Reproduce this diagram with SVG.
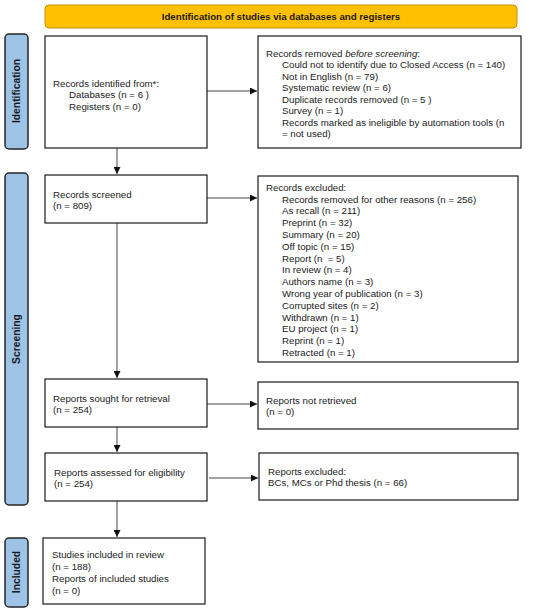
<svg xmlns="http://www.w3.org/2000/svg" width="550" height="612" viewBox="0 0 550 612">
<defs>
<style>
text{font-family:"Liberation Sans",Arial,sans-serif;font-size:9.7px;fill:#1a1a1a}
.b{fill:#fff;stroke:#1a1a1a;stroke-width:1.2}
.side{fill:#9DC3E6;stroke:#262626;stroke-width:1.5}
.sl{font-weight:bold;font-size:10.3px;text-anchor:middle}
.ban{fill:#FFC000;stroke:#C49000;stroke-width:1}
.bt{font-weight:bold;text-anchor:middle}
.c{stroke:#444;stroke-width:1;fill:none;marker-end:url(#ah)}
</style>
<marker id="ah" viewBox="0 0 10 10" refX="10" refY="5" markerWidth="7" markerHeight="7" markerUnits="userSpaceOnUse" orient="auto">
<path d="M0,0 L10,5 L0,10 z" fill="#111"/>
</marker>
</defs>
<rect width="550" height="612" fill="#fff"/>
<g id="banner">
<rect class="ban" x="45" y="5" width="472" height="23" rx="4"/>
<text class="bt" x="281" y="19.5">Identification of studies via databases and registers</text>
</g>
<g id="side-identification">
<rect class="side" x="5" y="34" width="23" height="115" rx="4"/>
<text class="sl" transform="translate(20.3,91) rotate(-90)">Identification</text>
</g>
<g id="side-screening">
<rect class="side" x="5" y="173" width="23" height="332" rx="4"/>
<text class="sl" transform="translate(20.3,339) rotate(-90)">Screening</text>
</g>
<g id="side-included">
<rect class="side" x="5" y="538" width="23" height="69" rx="4"/>
<text class="sl" transform="translate(20.3,572) rotate(-90)">Included</text>
</g>
<g id="connectors">
<line class="c" x1="207" y1="91" x2="257" y2="91"/>
<line class="c" x1="117" y1="148" x2="117" y2="174"/>
<line class="c" x1="207" y1="198" x2="257" y2="198"/>
<line class="c" x1="117" y1="223" x2="117" y2="378"/>
<line class="c" x1="207" y1="404" x2="257" y2="404"/>
<line class="c" x1="117" y1="427" x2="117" y2="452"/>
<line class="c" x1="209" y1="478" x2="258" y2="478"/>
<line class="c" x1="117" y1="501" x2="117" y2="537"/>
</g>
<g id="n-identified">
<rect class="b" x="45" y="36" width="162" height="112"/>
<text x="53" y="86.5">Records identified from*:</text>
<text x="69" y="98">Databases (n = 6 )</text>
<text x="69" y="109.5">Registers (n = 0)</text>
</g>
<g id="n-removed">
<rect class="b" x="258" y="36" width="263" height="112"/>
<text x="266" y="56.5">Records removed <tspan font-style="italic">before screening</tspan>:</text>
<text x="282" y="68">Could not to identify due to Closed Access (n = 140)</text>
<text x="282" y="79.5">Not in English (n = 79)</text>
<text x="282" y="91">Systematic review (n = 6)</text>
<text x="282" y="102.5">Duplicate records removed  (n = 5 )</text>
<text x="282" y="114" xml:space="preserve">Survey (n = 1)</text>
<text x="282" y="125.5">Records marked as ineligible by automation tools (n</text>
<text x="282" y="137">= not used)</text>
</g>
<g id="n-screened">
<rect class="b" x="45" y="175" width="162" height="48"/>
<text x="53" y="197.5">Records screened</text>
<text x="53" y="209">(n = 809)</text>
</g>
<g id="n-excluded">
<rect class="b" x="258" y="176" width="260" height="186"/>
<text x="266" y="190.5">Records excluded:</text>
<text x="282" y="202.5">Records removed for other reasons (n = 256)</text>
<text x="282" y="214.3">As recall (n = 211)</text>
<text x="282" y="226.1">Preprint (n = 32)</text>
<text x="282" y="237.9">Summary (n = 20)</text>
<text x="282" y="249.7">Off topic (n = 15)</text>
<text x="282" y="261.5" xml:space="preserve">Report (n  = 5)</text>
<text x="282" y="273.3">In review (n = 4)</text>
<text x="282" y="285.1">Authors name (n = 3)</text>
<text x="282" y="296.9">Wrong year of publication (n = 3)</text>
<text x="282" y="308.7">Corrupted sites (n = 2)</text>
<text x="282" y="320.5">Withdrawn (n = 1)</text>
<text x="282" y="332.3">EU project (n = 1)</text>
<text x="282" y="344.1">Reprint (n = 1)</text>
<text x="282" y="355.9">Retracted (n = 1)</text>
</g>
<g id="n-sought">
<rect class="b" x="45" y="379" width="162" height="48"/>
<text x="53" y="401.5">Reports sought for retrieval</text>
<text x="53" y="413">(n = 254)</text>
</g>
<g id="n-notretrieved">
<rect class="b" x="258" y="382" width="260" height="47"/>
<text x="266" y="403.5">Reports not retrieved</text>
<text x="266" y="415">(n = 0)</text>
</g>
<g id="n-assessed">
<rect class="b" x="45" y="453" width="162" height="48"/>
<text x="54" y="475.5">Reports assessed for eligibility</text>
<text x="54" y="487">(n = 254)</text>
</g>
<g id="n-reportsexcluded">
<rect class="b" x="259" y="453" width="259" height="47"/>
<text x="268" y="474.5">Reports excluded:</text>
<text x="268" y="486">BCs, MCs or Phd thesis (n = 66)</text>
</g>
<g id="n-included">
<rect class="b" x="43" y="538" width="162" height="66"/>
<text x="52" y="557.5">Studies included in review</text>
<text x="52" y="569.5">(n = 188)</text>
<text x="52" y="581.5">Reports of included studies</text>
<text x="52" y="593.5">(n = 0)</text>
</g>
</svg>
